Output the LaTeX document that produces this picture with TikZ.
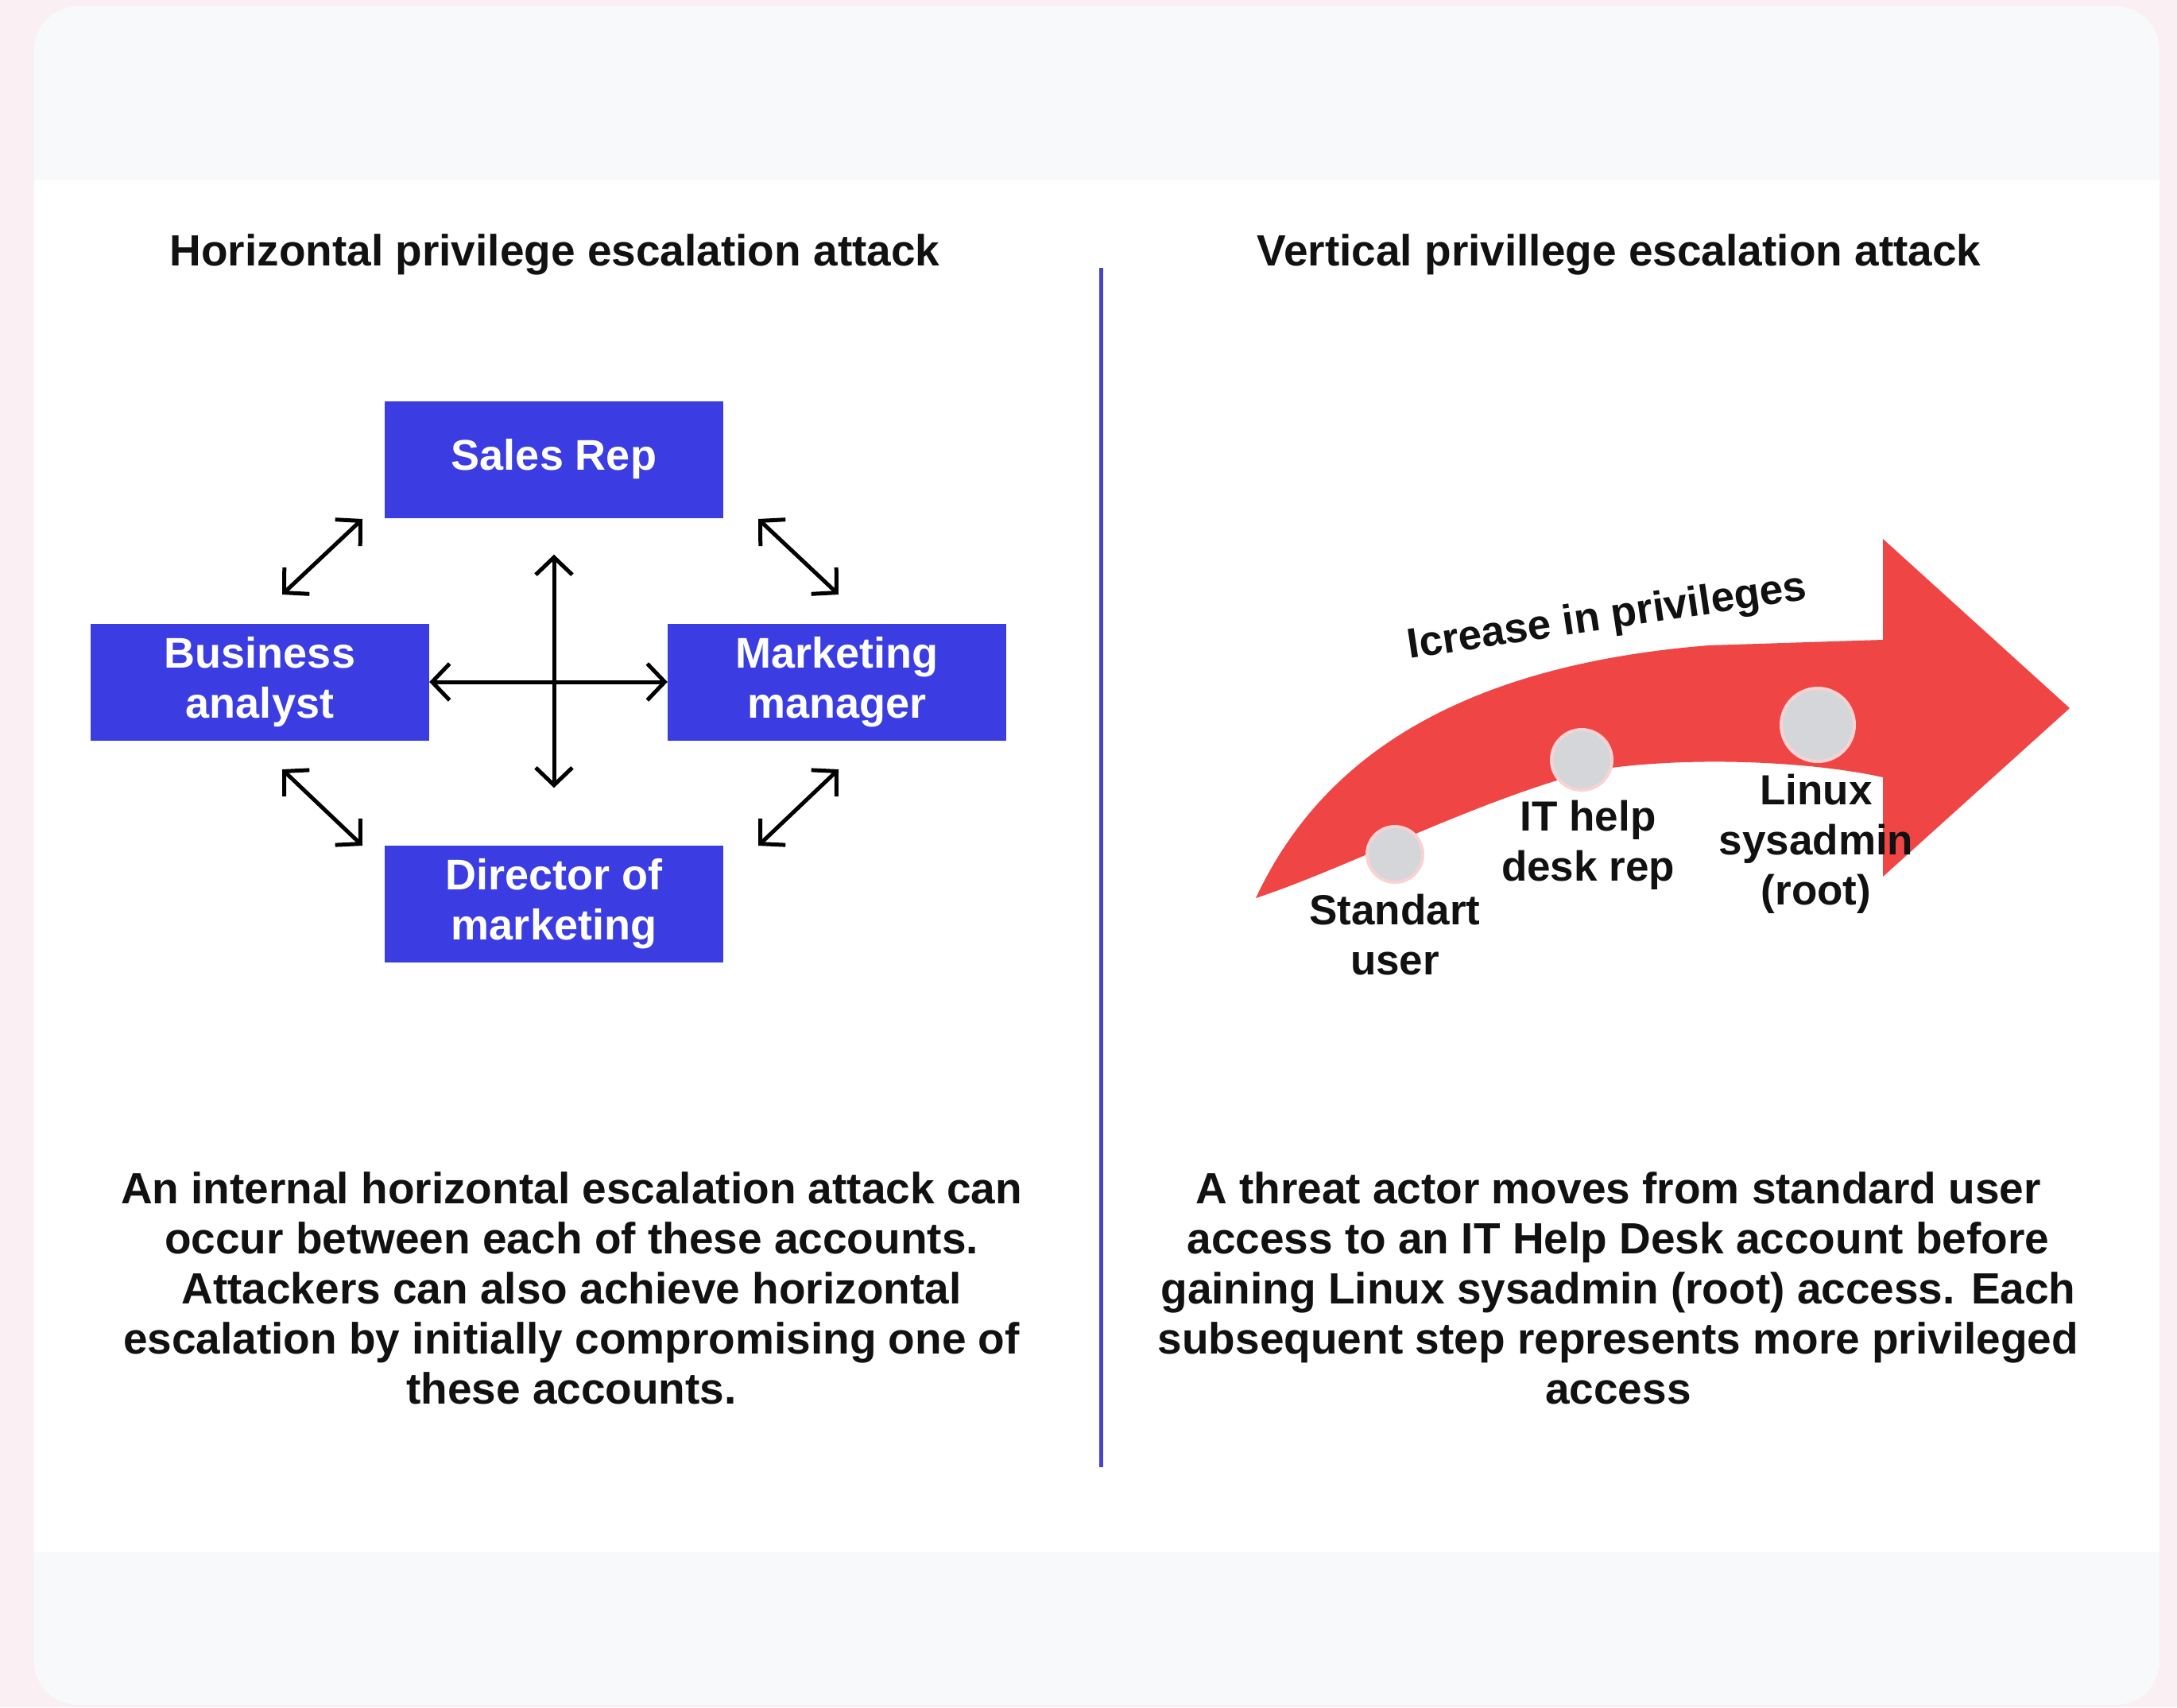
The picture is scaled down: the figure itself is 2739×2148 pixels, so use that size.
\documentclass[tikz,border=0pt]{standalone}
\usepackage{fontspec}
\setmainfont{Liberation Sans}
\usetikzlibrary{arrows.meta}
\definecolor{pinkbg}{HTML}{FAEFF2}
\definecolor{panelgray}{HTML}{F8F9FB}
\definecolor{boxblue}{HTML}{3B3DE3}
\definecolor{arrred}{HTML}{F04545}
\definecolor{dotgray}{HTML}{D5D6D9}
\definecolor{dotring}{HTML}{F9D3D3}
\definecolor{divblue}{HTML}{4646CC}
\definecolor{ink}{HTML}{111111}
\begin{document}
\begin{tikzpicture}[x=1pt,y=-1pt,
  acct/.style={fill=boxblue, text=white, font=\bfseries\fontsize{54}{63}\selectfont,
    minimum width=426pt, minimum height=147pt, align=center, inner sep=0pt},
  ttl/.style={text=ink, font=\bfseries\fontsize{55}{63}\selectfont},
  body/.style={text=ink, font=\bfseries\fontsize{55}{63}\selectfont, align=center},
  lbl/.style={text=ink, font=\bfseries\fontsize{53}{63}\selectfont, align=center},
  link/.style={draw=black, line width=5pt,
    {Straight Barb[length=22pt,width=46pt]}-{Straight Barb[length=22pt,width=46pt]}},
  stepdot/.style={circle, fill=dotgray, draw=dotring, line width=4pt, inner sep=0pt}
]
\useasboundingbox (0,0) rectangle (2739,2148);
% background
\fill[pinkbg] (0,0) rectangle (2739,2148);
\fill[panelgray, rounded corners=55pt] (43,8) rectangle (2717,2145);
\fill[white] (43,227) rectangle (2717,1953);

% divider
\coordinate (divtop) at (1385,337);
\coordinate (divbot) at (1385,1846);
\draw[divblue, line width=5pt] (divtop) -- (divbot);

% titles
\node[ttl] (t1) at (698,320) {Horizontal privilege escalation attack};
\node[ttl] (t2) at (2037,320) {Vertical privillege escalation attack};

% accounts
\node[acct] (sales) at (697,578) {Sales Rep};
\node[acct] (ba) at (327,858) {Business\\analyst};
\node[acct] (mm) at (1053,858) {Marketing\\manager};
\node[acct] (dir) at (697,1137) {Director of\\marketing};

% connectors
\draw[link] (ba.east) -- (mm.west);
\path (sales.south) ++(0,46) coordinate (vt);
\path (dir.north) ++(0,-72) coordinate (vb);
\draw[link] (vt) -- (vb);
\coordinate (a1s) at (355,748); \coordinate (a1e) at (456,653);
\coordinate (a2s) at (954,653); \coordinate (a2e) at (1055,748);
\coordinate (a3s) at (355,968); \coordinate (a3e) at (456,1064);
\coordinate (a4s) at (954,1064); \coordinate (a4e) at (1055,968);
\draw[link] (a1s) -- (a1e);
\draw[link] (a2s) -- (a2e);
\draw[link] (a3s) -- (a3e);
\draw[link] (a4s) -- (a4e);

% red curved arrow
\fill[arrred] (1580,1130) .. controls (1650,980) and (1800,840) .. (2150,812)
  -- (2369,805) -- (2369,678) -- (2604,891) -- (2369,1103) -- (2369,978)
  .. controls (2280,958) and (2120,950) .. (2000,970)
  .. controls (1850,1010) and (1700,1090) .. (1580,1130) -- cycle;

% steps
\node[stepdot, minimum size=70pt] (s1) at (1755,1075) {};
\node[stepdot, minimum size=76pt] (s2) at (1990,956) {};
\node[stepdot, minimum size=92pt] (s3) at (2287,912) {};

\node[lbl] (l1) at (1755,1176) {Standart\\user};
\node[lbl] (l2) at (1998,1063) {IT help\\desk rep};
\node[lbl] (l3) at (2285,1062) {Linux\\sysadmin\\(root)};
\node[lbl, rotate=8.5] (inc) at (2022,778) {Icrease in privileges};

% body texts
\node[body] (b1) at (719,1621) {An internal horizontal escalation attack can\\occur between each of these accounts.\\Attackers can also achieve horizontal\\escalation by initially compromising one of\\these accounts.};
\node[body] (b2) at (2036,1621) {A threat actor moves from standard user\\access to an IT Help Desk account before\\gaining Linux sysadmin (root) access. Each\\subsequent step represents more privileged\\access};
\end{tikzpicture}
\end{document}
